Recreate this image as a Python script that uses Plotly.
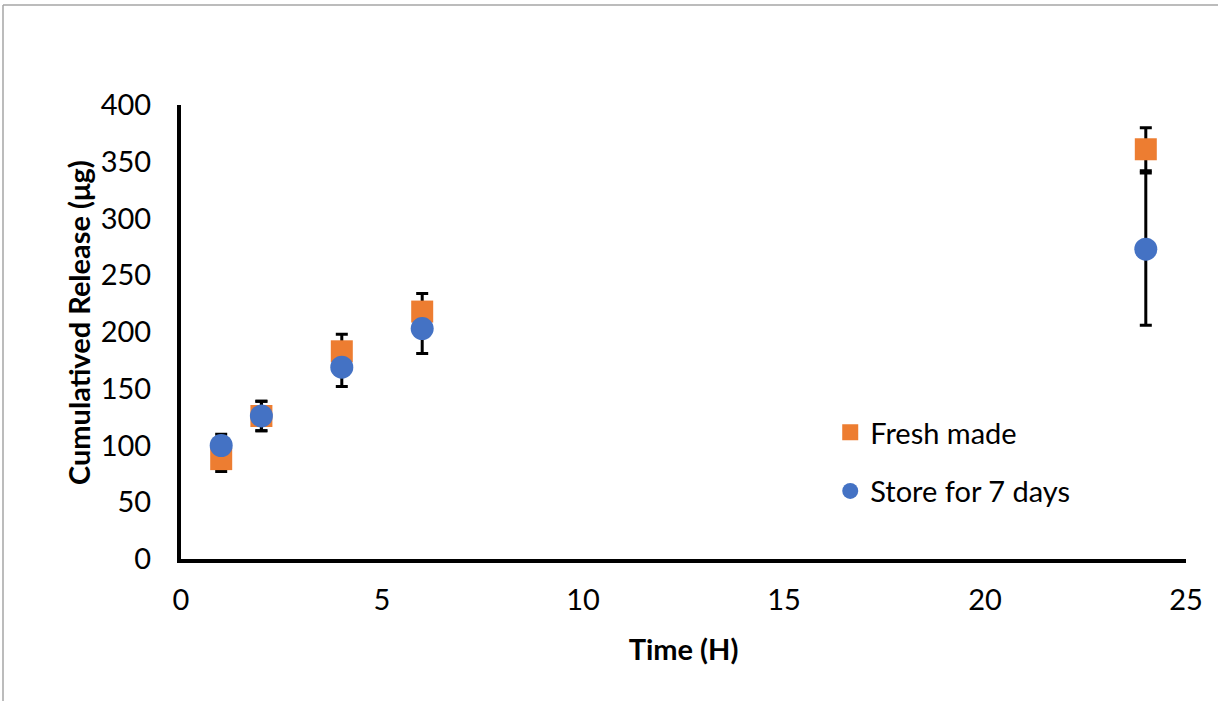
import plotly.graph_objects as go

time_h = [1, 2, 4, 6, 24]
fresh_made = [88, 126, 183, 218, 361]
fresh_err = [11, 13, 15, 16, 19]
store_7d = [100, 126, 169, 203, 273]
store_err = [10, 13, 17, 22, 67]

x_ticks = [0, 5, 10, 15, 20, 25]
y_ticks = [0, 50, 100, 150, 200, 250, 300, 350, 400]

FONT = "Lato, 'Open Sans', sans-serif"
ORANGE = "#ED7D31"
BLUE = "#4472C4"

fig = go.Figure()

# error bars drawn beneath markers
for vals, errs in [(fresh_made, fresh_err), (store_7d, store_err)]:
    fig.add_trace(go.Scatter(
        x=time_h, y=vals, mode="markers",
        marker=dict(color="rgba(0,0,0,0)", size=1),
        error_y=dict(type="data", array=errs, visible=True,
                     color="black", thickness=3, width=6),
        showlegend=False, hoverinfo="skip"))

fig.add_trace(go.Scatter(
    x=time_h, y=fresh_made, mode="markers", name="Fresh made",
    legendgroup="a",
    marker=dict(symbol="square", size=22, color=ORANGE)))
fig.add_trace(go.Scatter(
    x=time_h, y=store_7d, mode="markers", name="Store for 7 days",
    legendgroup="b",
    marker=dict(symbol="circle", size=23, color=BLUE)))

fig.update_layout(
    width=1218, height=701,
    margin=dict(l=181, r=32, t=105, b=142),
    paper_bgcolor="white", plot_bgcolor="white",
    font=dict(family=FONT, size=29, color="black"),
    legend=dict(x=0.646, y=0.335, xanchor="left", yanchor="top",
                traceorder="grouped", tracegroupgap=18,
                font=dict(size=29), itemwidth=30,
                bgcolor="rgba(0,0,0,0)"),
    xaxis=dict(range=[0, 25], tickvals=x_ticks, showgrid=False, zeroline=False,
               showline=True, linewidth=4, linecolor="black",
               ticks="", ticklabelstandoff=12,
               title=dict(text="<b>Time (H)</b>", font=dict(size=29), standoff=26)),
    yaxis=dict(range=[0, 400], tickvals=y_ticks, showgrid=False, zeroline=False,
               showline=True, linewidth=4, linecolor="black",
               ticks="", ticklabelstandoff=20),
    annotations=[
        dict(text="<b>Cumulatived Release (μg)</b>", textangle=-90,
             xref="paper", yref="paper", x=(78 - 181) / 1005, y=(559 - 323) / 454,
             xanchor="center", yanchor="middle", showarrow=False,
             font=dict(size=29)),
    ],
    shapes=[
        dict(type="line", xref="paper", yref="paper",
             x0=(3 - 181) / 1005, x1=(1230 - 181) / 1005,
             y0=(559 - 5) / 454, y1=(559 - 5) / 454,
             line=dict(color="#A6A6A6", width=1.5)),
        dict(type="line", xref="paper", yref="paper",
             x0=(3 - 181) / 1005, x1=(3 - 181) / 1005,
             y0=(559 - 5) / 454, y1=(559 - 720) / 454,
             line=dict(color="#A6A6A6", width=1.5)),
    ],
)

fig.write_html(
    "out.html",
    config={"displayModeBar": False},
    post_script="document.body.style.margin='0';document.body.style.overflow='hidden';",
)
